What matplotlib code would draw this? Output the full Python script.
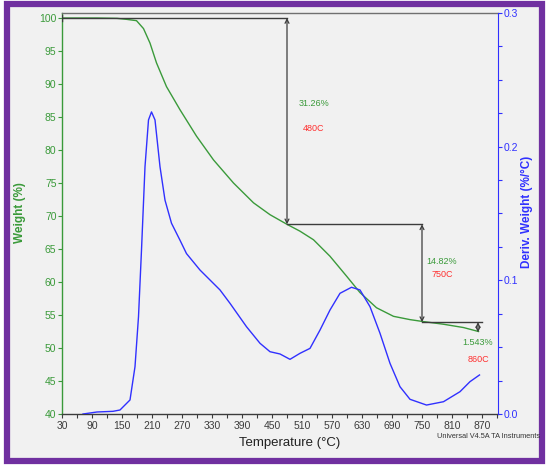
import matplotlib
matplotlib.use("Agg")
import matplotlib.pyplot as plt
from matplotlib.patches import Rectangle
from matplotlib.ticker import MultipleLocator, FormatStrFormatter

plt.rcParams['font.family'] = ['Liberation Sans Narrow', 'Liberation Sans', 'DejaVu Sans']

# TGA weight curve (left axis)
temp_w = [32, 60, 100, 140, 159, 179, 193, 206, 219, 239, 266, 299, 333, 373,
          413, 446, 480, 506, 533, 566, 599, 626, 659, 693, 726, 753, 793,
          833, 863]
weight = [100, 100, 100, 99.95, 99.8, 99.6, 98.4, 96.2, 93.2, 89.6, 86.1, 82.1,
          78.5, 75.0, 72.0, 70.2, 68.74, 67.7, 66.4, 63.9, 60.9, 58.4, 56.1,
          54.8, 54.3, 54.0, 53.6, 53.1, 52.5]

# DTG derivative curve (right axis)
temp_d = [72, 100, 132, 146, 166, 176, 183, 189, 196, 203, 209, 216, 226, 236,
          249, 266, 279, 306, 346, 366, 399, 426, 446, 466, 486, 506, 526, 546,
          566, 586, 609, 626, 646, 666, 686, 706, 726, 759, 793, 826, 846, 865]
deriv = [0.0, 0.0015, 0.002, 0.003, 0.0105, 0.0354, 0.0728, 0.1227, 0.185,
         0.22, 0.226, 0.22, 0.185, 0.16, 0.1427, 0.130, 0.120, 0.1077, 0.0928,
         0.0828, 0.0653, 0.0529, 0.0466, 0.0449, 0.0409, 0.0454, 0.0491,
         0.0628, 0.0778, 0.0903, 0.0948, 0.0928, 0.0803, 0.0604, 0.0379,
         0.0204, 0.011, 0.0067, 0.0092, 0.0167, 0.0242, 0.0292]

# step annotations
steps_t = [(30, 480), (480, 750), (750, 870)]
steps_w = [100, 68.74, 53.92, 52.38]
arrow_t = [480, 750, 862]
loss_lbl = ["31.26%", "14.82%", "1.543%"]
temp_lbl = ["480C", "750C", "860C"]
lbl_pos = [(534, 87.0, 83.2), (790, 63.1, 61.2), (862, 50.9, 48.2)]

GREEN = "#3a9a3a"
BLUE = "#3030ff"
RED = "#ff3030"
GREY = "#3c3c3c"

W, H = 547, 466
fig = plt.figure(figsize=(W / 100, H / 100), dpi=100)
fig.patch.set_facecolor("white")
fig.patches.append(Rectangle((7 / W, 5 / H), 535 / W, 457 / H, transform=fig.transFigure,
                             facecolor="#f1f1f1", edgecolor="#7030a0", lw=4.5, zorder=-5))

ax = fig.add_axes([62 / W, 1 - 414 / H, 436 / W, 401 / H])
ax.set_facecolor("#f1f1f1")
ax.plot(temp_w, weight, color=GREEN, lw=1.0, zorder=3)
ax.set_xlim(30, 902)
ax.set_ylim(40, 100.76)
ax.set_xticks(range(30, 871, 60))
ax.set_xticks(range(60, 901, 60), minor=True)
ax.yaxis.set_major_locator(MultipleLocator(5))
ax.tick_params(axis="x", labelsize=7.5, colors=GREY, length=3, width=0.8, pad=2)
ax.tick_params(axis="x", which="minor", length=3, width=0.8, color=GREY)
ax.tick_params(axis="y", labelsize=7.5, colors=GREEN, length=3, width=0.8, pad=1)
ax.spines["left"].set_color(GREEN)
ax.spines["bottom"].set_color(GREY)
ax.spines["top"].set_color("#707070")
ax.spines["right"].set_visible(False)
for s in ax.spines.values():
    s.set_linewidth(1.0)

ax2 = ax.twinx()
ax2.plot(temp_d, deriv, color=BLUE, lw=1.0, zorder=2)
ax2.set_ylim(0, 0.3)
ax2.yaxis.set_major_locator(MultipleLocator(0.1))
ax2.yaxis.set_minor_locator(MultipleLocator(0.025))
ax2.yaxis.set_major_formatter(FormatStrFormatter("%.1f"))
ax2.tick_params(axis="y", labelsize=7.5, colors=BLUE, length=3, width=0.8, pad=1)
ax2.tick_params(axis="y", which="minor", length=3, width=0.8, color=BLUE)
ax2.spines["right"].set_color(BLUE)
ax2.spines["left"].set_visible(False)
ax2.spines["top"].set_visible(False)
ax2.spines["bottom"].set_visible(False)

# step lines and arrows
for i, (t0, t1) in enumerate(steps_t):
    ax.plot([t0, t1], [steps_w[i], steps_w[i]], color=GREY, lw=1.0, zorder=4)
for i, t in enumerate(arrow_t):
    ax.annotate("", xy=(t, steps_w[i + 1]), xytext=(t, steps_w[i]),
                arrowprops=dict(arrowstyle="<->", color=GREY, lw=0.9,
                                mutation_scale=7, shrinkA=0, shrinkB=0), zorder=5)
ax.plot([30, 30], [99.5, 100.5], color=GREY, lw=1.0, zorder=4)

for i, (tx, y1, y2) in enumerate(lbl_pos):
    ax.text(tx, y1, loss_lbl[i], color=GREEN, fontsize=6.5, ha="center", va="center")
    ax.text(tx, y2, temp_lbl[i], color=RED, fontsize=6.5, ha="center", va="center")

fig.text(20 / W, 1 - 213 / H, "Weight (%)", color=GREEN, fontsize=8.5, fontweight="bold",
         rotation=90, ha="center", va="center")
fig.text(527 / W, 1 - 212 / H, "Deriv. Weight (%/°C)", color=BLUE, fontsize=8.5,
         fontweight="bold", rotation=90, ha="center", va="center")
fig.text(290 / W, 1 - 443 / H, "Temperature (°C)", color="#222222", fontsize=9.5,
         ha="center", va="center")
fig.text(540 / W, 1 - 437 / H, "Universal V4.5A TA Instruments", color="#333333",
         fontsize=5.3, ha="right", va="center")

fig.savefig("out.png", dpi=100)
